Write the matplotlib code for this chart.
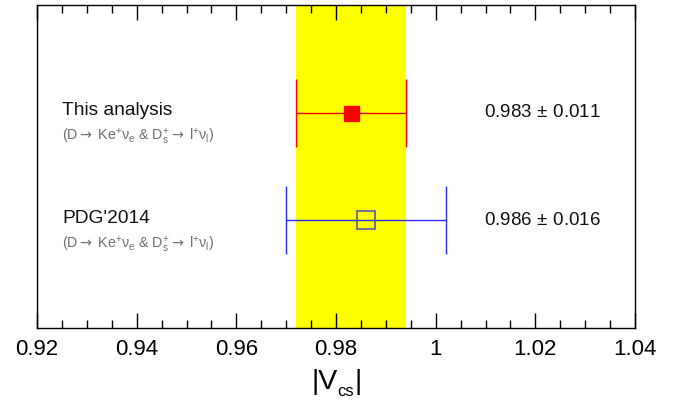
import matplotlib
matplotlib.use("Agg")
import matplotlib.pyplot as plt
from matplotlib.ticker import MultipleLocator

plt.rcParams['font.family'] = ['Liberation Sans', 'DejaVu Sans']
plt.rcParams['mathtext.fontset'] = 'custom'
plt.rcParams['mathtext.rm'] = 'Liberation Sans'
plt.rcParams['mathtext.it'] = 'Liberation Sans'
plt.rcParams['mathtext.bf'] = 'Liberation Sans:bold'
plt.rcParams['mathtext.sf'] = 'DejaVu Sans'

labels = ["This analysis", "PDG'2014"]
sublabels = [r'(D$\mathsf{\rightarrow}$ Ke$^{+}\nu_{e}$ & D$_{s}^{+}$$\mathsf{\rightarrow}$ l$^{+}\nu_{l}$)'] * 2
values = [0.983, 0.986]
errors = [0.011, 0.016]
value_texts = [r'0.983$\,\pm\,$0.011', r'0.986$\,\pm\,$0.016']
ypos = [2, 1]
band_lo, band_hi = 0.972, 0.994
xticks = [0.92, 0.94, 0.96, 0.98, 1.0, 1.02, 1.04]
xticklabels = ['0.92', '0.94', '0.96', '0.98', '1', '1.02', '1.04']

W, H = 680, 403
fig = plt.figure(figsize=(6.8, 4.03), dpi=100)
ax = fig.add_axes([37/W, 1-328/H, 598/W, 323/H])
ax.set_xlim(0.92, 1.04)
ax.set_ylim(0, 3)

ax.axvspan(band_lo, band_hi, color='#ffff00', zorder=0, lw=0)

colors = ['#ff0000', '#2b2bff']
for i in range(2):
    v, e, y, c = values[i], errors[i], ypos[i], colors[i]
    ax.hlines(y, v - e, v + e, color=c, lw=1.0, zorder=2)
    ax.vlines([v - e, v + e], y - 0.315, y + 0.315, color=c, lw=1.0, zorder=2)

ax.plot(values[0], ypos[0], marker='s', ms=10.8, color='#ff0000', mec='#ff0000', zorder=3, ls='none')
ax.plot(values[1], ypos[1], marker='s', ms=13.5, mfc='none', mec='#5a5a9a', mew=1.2, zorder=3, ls='none')

for i in range(2):
    ax.text(0.925, ypos[i] + 0.02, labels[i], fontsize=13.8, color='#111111', va='center', ha='left')
    ax.text(0.925, ypos[i] - 0.23, sublabels[i], fontsize=10.3, color='#707070', va='center', ha='left')
    ax.text(1.0097, ypos[i], value_texts[i], fontsize=13.5, color='#111111', va='center', ha='left')

ax.xaxis.set_minor_locator(MultipleLocator(0.005))
ax.set_xticks(xticks)
ax.set_xticklabels(xticklabels)
ax.tick_params(axis='x', which='major', direction='in', length=11, width=1.0, top=True, bottom=True, labelsize=16, pad=8)
ax.tick_params(axis='x', which='minor', direction='in', length=5.5, width=1.0, top=True, bottom=True)
ax.set_yticks([])
for s in ax.spines.values():
    s.set_linewidth(1.0)

# x-axis title |V_cs| built from pieces
fig.canvas.draw()
r = fig.canvas.get_renderer()
x0 = 311
t1 = fig.text(x0/W, 1-389/H, '|V', fontsize=20.5, ha='left', va='baseline')
bb = t1.get_window_extent(r)
t2 = fig.text((bb.x1 + 0.3)/W, 1-396/H, 'cs', fontsize=12, ha='left', va='baseline')
bb2 = t2.get_window_extent(r)
t3 = fig.text((bb2.x1 + 0.3)/W, 1-389/H, '|', fontsize=20.5, ha='left', va='baseline')

fig.savefig('out.png', dpi=100)
